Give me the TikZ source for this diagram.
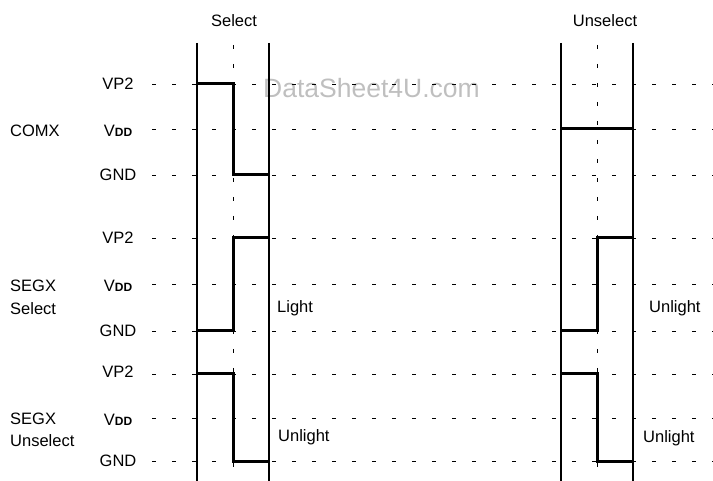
\documentclass[tikz,border=0pt]{standalone}
\usepackage{fontspec}
\setmainfont{Liberation Sans}
\usetikzlibrary{positioning}

\tikzset{
  level/.style={draw=black, line width=0.7pt, dash pattern=on 4pt off 16pt},
  rail/.style={draw=black, line width=1.6pt},
  midline/.style={draw=black, line width=0.9pt, dash pattern=on 4pt off 15pt},
  wave/.style={draw=black, line width=3pt, line join=miter},
  lbl/.style={font=\fontsize{16.5}{18}\selectfont, inner sep=0pt, text height=11.8pt, text depth=0pt},
}
\newcommand{\vddtxt}{V{\fontsize{12}{14}\selectfont\bfseries DD}}

\begin{document}
\begin{tikzpicture}[x=1pt,y=-1pt]
\useasboundingbox (0,0) rectangle (713,481);

% watermark
\node[font=\fontsize{26.5}{28}\selectfont, text=black!25, anchor=west, inner sep=0pt] (wm) at (263,88) {DataSheet4U.com};

% voltage levels
\foreach \n/\y in {cvp/84, cvdd/129, cgnd/175, svp/238, svdd/284, sgnd/331, uvp/374, uvdd/418, ugnd/461}{
  \coordinate (\n-l) at (152,\y);
  \coordinate (\n-r) at (713,\y);
  \draw[level] (\n-l) -- (\n-r);
}

% frame edges
\foreach \n/\x in {sa/197, sb/269, ua/561, ub/633}{
  \coordinate (\n-t) at (\x,43);
  \coordinate (\n-b) at (\x,481);
  \draw[rail] (\n-t) -- (\n-b);
}
\foreach \n/\x in {sm/233, um/597}{
  \coordinate (\n-t) at (\x,45);
  \coordinate (\n-b) at (\x,481);
  \draw[midline] (\n-t) -- (\n-b);
}

% waveforms
\draw[wave] (sa-t |- cvp-l) -| (sm-t |- cgnd-l) -- (sb-t |- cgnd-l);
\draw[wave] (ua-t |- cvdd-l) -- (ub-t |- cvdd-l);
\draw[wave] (sa-t |- sgnd-l) -| (sm-t |- svp-l) -- (sb-t |- svp-l);
\draw[wave] (ua-t |- sgnd-l) -| (um-t |- svp-l) -- (ub-t |- svp-l);
\draw[wave] (sa-t |- uvp-l) -| (sm-t |- ugnd-l) -- (sb-t |- ugnd-l);
\draw[wave] (ua-t |- uvp-l) -| (um-t |- ugnd-l) -- (ub-t |- ugnd-l);

% labels
\begin{scope}[every node/.style={lbl}]
  \node (sel) at (234,21) {Select};
  \node (unsel) at (605,21) {Unselect};
  \node[anchor=west] (comx) at (10,131) {COMX};
  \node[anchor=west] (segs1) at (10,286) {SEGX};
  \node[anchor=west] (segs2) at (10,309) {Select};
  \node[anchor=west] (segu1) at (10,419) {SEGX};
  \node[anchor=west] (segu2) at (10,441) {Unselect};
  \node (cvpl) at (118,84) {VP2};
  \node (cvddl) at (118,131) {\vddtxt};
  \node (cgndl) at (118,175) {GND};
  \node (svpl) at (118,238) {VP2};
  \node (svddl) at (118,286) {\vddtxt};
  \node (sgndl) at (118,331) {GND};
  \node (uvpl) at (118,372) {VP2};
  \node (uvddl) at (118,420) {\vddtxt};
  \node (ugndl) at (118,461) {GND};
  \node[anchor=west] (light) at (277,307) {Light};
  \node[anchor=west] (unl1) at (278,436) {Unlight};
  \node[anchor=west] (unl2) at (649,307) {Unlight};
  \node[anchor=west] (unl3) at (643,437) {Unlight};
\end{scope}
\end{tikzpicture}
\end{document}
